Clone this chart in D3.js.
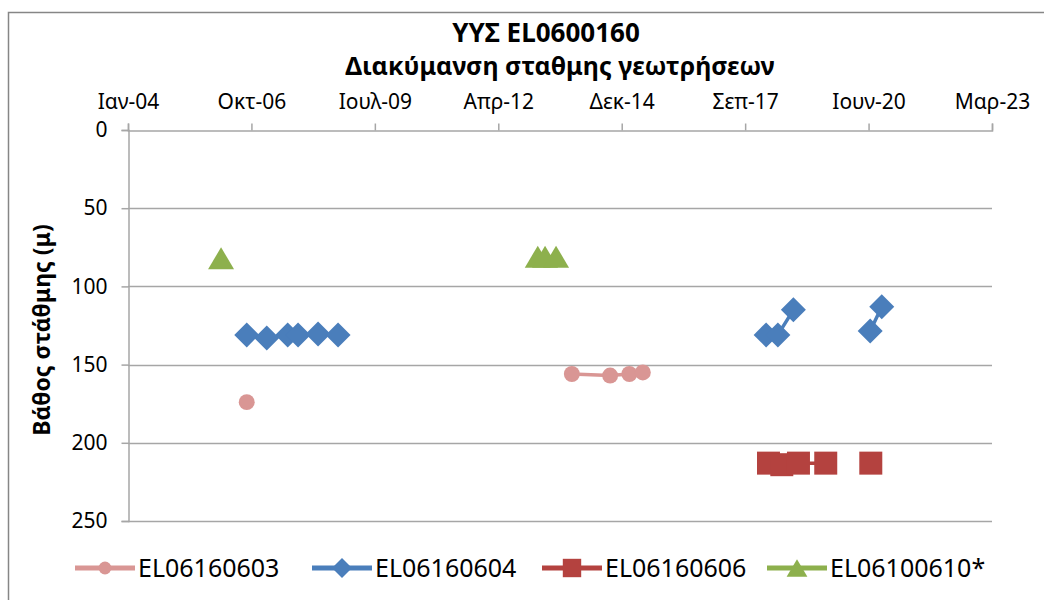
<!DOCTYPE html>
<html>
<head>
<meta charset="utf-8">
<script src="https://cdn.jsdelivr.net/npm/d3@7"></script>
<style>
  body { margin: 0; background: #fff; }
  svg { display: block; }
  text { font-family: "Noto Sans", "DejaVu Sans", sans-serif; fill: #000; }
</style>
</head>
<body>
<svg id="chart" width="1044" height="600"></svg>
<script>
// ---- data ----
const titleLines = ["ΥΥΣ EL0600160", "Διακύμανση σταθμης γεωτρήσεων"];
const yAxisTitle = "Βάθος στάθμης (μ)";
const xTickDates = ["2004-01-14", "2006-10-10", "2009-07-06", "2012-04-01", "2014-12-27", "2017-09-22", "2020-06-18", "2023-03-15"];
const xTickLabels = ["Ιαν-04", "Οκτ-06", "Ιουλ-09", "Απρ-12", "Δεκ-14", "Σεπ-17", "Ιουν-20", "Μαρ-23"];
const yTicks = [0, 50, 100, 150, 200, 250];

const seriesNames = ["EL06160603", "EL06160604", "EL06160606", "EL06100610*"];
// null values separate unconnected groups (empty cells)
const s603Dates = ["2006-09-02", null, "2013-11-18", "2014-09-24", "2015-02-27", "2015-06-16"];
const s603Values = [174, null, 156, 157, 156, 155];
const s604Dates = ["2006-09-02", "2007-02-11", "2007-07-31", "2007-10-23", "2008-04-02", "2008-09-11", null, "2018-03-11", "2018-06-14", "2018-10-18", null, "2020-07-01", "2020-10-03"];
const s604Values = [131, 133, 131, 131, 130.5, 131, null, 131, 131, 115, null, 128.5, 113];
const s606Dates = ["2018-03-30", "2018-07-16", "2018-11-28", "2019-07-07", null, "2020-07-06"];
const s606Values = [213, 214, 213, 213, null, 213];
const s610Dates = ["2006-02-06", null, "2013-02-15", "2013-04-15", "2013-07-13"];
const s610Values = [82, null, 81, 81, 81];

// ---- setup ----
const parse = d3.timeParse("%Y-%m-%d");
const colors = ["#D99694", "#4A7EBB", "#B4423F", "#8DB04D"];
const markers = ["circle", "diamond", "square", "triangle"];
const allDates = [s603Dates, s604Dates, s606Dates, s610Dates];
const allValues = [s603Values, s604Values, s606Values, s610Values];
const series = seriesNames.map((name, i) => ({
  name, color: colors[i], marker: markers[i],
  points: allDates[i].map((d, j) => ({ date: d ? parse(d) : null, value: allValues[i][j] }))
}));

const svg = d3.select("#chart");
const plot = { left: 128, right: 992, top: 130, bottom: 521 };

// chart frame
svg.append("rect").attr("x", 8.5).attr("y", 12.5).attr("width", 1060).attr("height", 620)
  .attr("fill", "#fff").attr("stroke", "#868686").attr("stroke-width", 1.5);

const x = d3.scaleTime()
  .domain([parse(xTickDates[0]), parse(xTickDates[xTickDates.length - 1])])
  .range([plot.left, plot.right]);
const y = d3.scaleLinear().domain([0, 250]).range([plot.top, plot.bottom]);

// gridlines
svg.append("g").selectAll("line").data(yTicks.slice(1)).join("line")
  .attr("x1", plot.left).attr("x2", plot.right)
  .attr("y1", d => Math.round(y(d)) + 0.5).attr("y2", d => Math.round(y(d)) + 0.5)
  .attr("stroke", "#A6A6A6").attr("stroke-width", 1.5);

// y axis
const yAxis = d3.axisLeft(y).tickValues(yTicks).tickSize(7).tickPadding(14).tickFormat(d3.format("d"));
const gy = svg.append("g").attr("transform", `translate(${plot.left + 0.5},0)`).call(yAxis);
gy.select(".domain").attr("stroke", "#A6A6A6").attr("stroke-width", 1.5);
gy.selectAll(".tick line").attr("stroke", "#A6A6A6").attr("stroke-width", 1.5);
gy.selectAll(".tick text").style("font-size", "21px").style("font-family", "'Noto Sans', sans-serif").attr("fill", "#000");

// x axis (top)
const labelMap = new Map(xTickDates.map((d, i) => [+parse(d), xTickLabels[i]]));
const xAxis = d3.axisTop(x).tickValues(xTickDates.map(parse)).tickSize(7).tickPadding(15)
  .tickFormat(d => labelMap.get(+d));
const gx = svg.append("g").attr("transform", `translate(0,${plot.top + 0.5})`).call(xAxis);
gx.select(".domain").attr("stroke", "#A6A6A6").attr("stroke-width", 1.5);
gx.selectAll(".tick line").attr("stroke", "#A6A6A6").attr("stroke-width", 1.5);
gx.selectAll(".tick text").style("font-size", "21px").style("font-family", "'Noto Sans', sans-serif").attr("fill", "#000");

// titles
svg.append("text").attr("x", 546).attr("y", 42).attr("text-anchor", "middle")
  .style("font-size", "26px").style("font-weight", "bold").text(titleLines[0]);
svg.append("text").attr("x", 560).attr("y", 75).attr("text-anchor", "middle")
  .style("font-size", "25px").style("font-weight", "bold").text(titleLines[1]);
svg.append("text").attr("transform", "translate(50,330) rotate(-90)").attr("text-anchor", "middle")
  .style("font-size", "23px").style("font-weight", "bold").text(yAxisTitle);

// symbols
function drawMarker(g, m, color, cx, cy, scale = 1) {
  let path;
  if (m === "diamond") {
    const r = 12.5 * scale;
    path = `M0,${-r}L${r},0L0,${r}L${-r},0Z`;
  } else if (m === "triangle") {
    const w = 13 * scale, h = 22 * scale;
    path = `M0,${-h / 2}L${w},${h / 2}L${-w},${h / 2}Z`;
  } else if (m === "square") {
    const s = 11.5 * scale;
    path = `M${-s},${-s}H${s}V${s}H${-s}Z`;
  } else {
    path = d3.symbol(d3.symbolCircle, 200 * scale * scale)();
  }
  g.append("path").attr("d", path).attr("transform", `translate(${cx},${cy})`).attr("fill", color);
}

const line = d3.line().defined(d => d.value !== null && d.date !== null)
  .x(d => x(d.date)).y(d => y(d.value));

series.forEach(s => {
  const g = svg.append("g");
  g.append("path").datum(s.points).attr("d", line).attr("fill", "none")
    .attr("stroke", s.color).attr("stroke-width", 3.5).attr("stroke-linejoin", "round");
  s.points.filter(p => p.value !== null).forEach(p => drawMarker(g, s.marker, s.color, x(p.date), y(p.value)));
});

// legend
const legendX = [75, 312, 542, 767];
const legendY = 568;
series.forEach((s, i) => {
  const g = svg.append("g");
  g.append("line").attr("x1", legendX[i]).attr("x2", legendX[i] + 60).attr("y1", legendY).attr("y2", legendY)
    .attr("stroke", s.color).attr("stroke-width", 5);
  drawMarker(g, s.marker, s.color, legendX[i] + 30, legendY, 0.8);
  g.append("text").attr("x", legendX[i] + 63).attr("y", legendY + 9).style("font-size", "25px").text(s.name);
});
</script>
</body>
</html>
